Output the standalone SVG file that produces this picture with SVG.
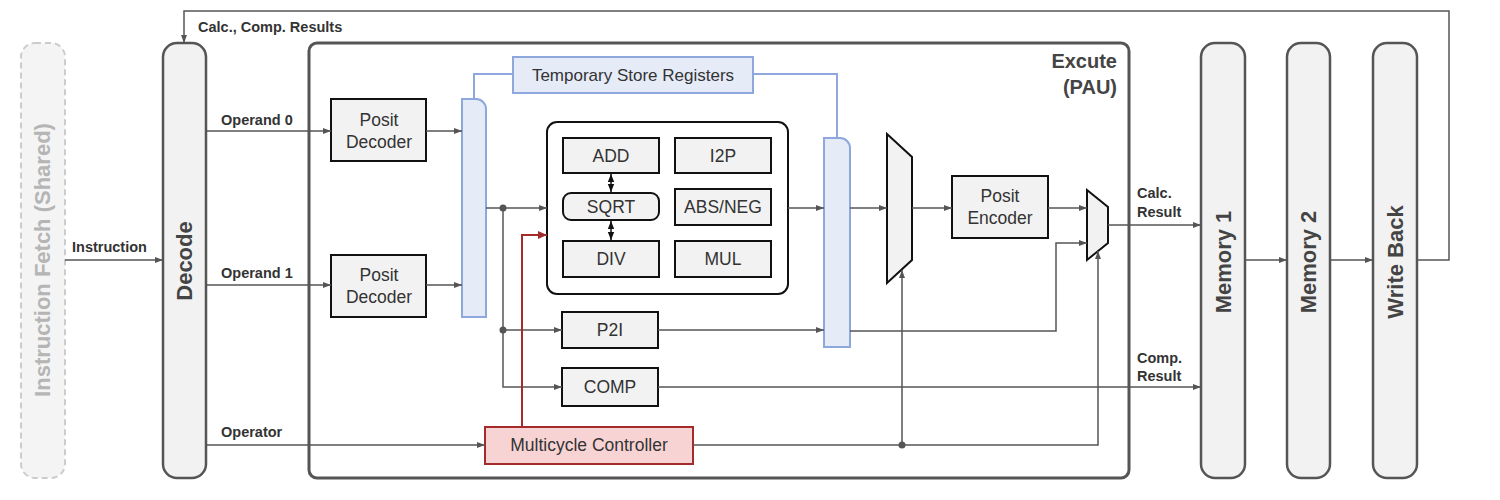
<svg xmlns="http://www.w3.org/2000/svg" width="1500" height="500" viewBox="0 0 1500 500">
<defs>
<marker id="ah" markerUnits="userSpaceOnUse" markerWidth="8" markerHeight="8" viewBox="0 0 8 8" refX="8" refY="4" orient="auto">
<path d="M0,1 L8,4 L0,7 Z" fill="#555"/>
</marker>
<marker id="ahk" markerUnits="userSpaceOnUse" markerWidth="8" markerHeight="8" viewBox="0 0 8 8" refX="8" refY="4" orient="auto-start-reverse">
<path d="M0,0.8 L8,4 L0,7.2 Z" fill="#111"/>
</marker>
<marker id="ahr" markerUnits="userSpaceOnUse" markerWidth="9" markerHeight="9" viewBox="0 0 8 8" refX="8" refY="4" orient="auto">
<path d="M0,0.5 L8,4 L0,7.5 Z" fill="#a32b2b"/>
</marker>
</defs>
<style>
.stage{fill:#f2f2f2;stroke:#555;stroke-width:2.5}
.stxt{font-family:"Liberation Sans",Arial,sans-serif;font-weight:bold;font-size:22px;fill:#444;text-anchor:middle}
.box{fill:#f2f2f2;stroke:#111;stroke-width:2}
.btxt{font-family:"Liberation Sans",Arial,sans-serif;font-size:17.5px;fill:#333;text-anchor:middle}
.lbl{font-family:"Liberation Sans",Arial,sans-serif;font-weight:bold;font-size:14.5px;fill:#333}
.ln{fill:none;stroke:#555;stroke-width:1.5}
.blue{fill:none;stroke:#8ea8dd;stroke-width:2}
.reg{fill:#e6ebf8;stroke:#8ea8dd;stroke-width:2}
.dot{fill:#555}
</style>

<g id="instruction-fetch">
<rect x="21" y="43" width="44" height="435" rx="14" fill="#f4f4f4" stroke="#cccccc" stroke-width="2" stroke-dasharray="6,4"/>
<text class="stxt" transform="translate(50,260) rotate(-90)" style="fill:#b5b5b5">Instruction Fetch (Shared)</text>
</g>

<g id="decode">
<rect class="stage" x="163" y="43" width="43" height="435" rx="14"/>
<text class="stxt" transform="translate(192,261) rotate(-90)">Decode</text>
</g>

<g id="execute">
<rect x="309" y="43" width="820" height="435" rx="8" fill="none" stroke="#555" stroke-width="3"/>
<text class="stxt" x="1117" y="68" style="text-anchor:end;font-size:20px">Excute</text>
<text class="stxt" x="1117" y="94" style="text-anchor:end;font-size:20px">(PAU)</text>
</g>

<g id="memory1">
<rect class="stage" x="1201" y="43" width="44" height="435" rx="14"/>
<text class="stxt" transform="translate(1231,262) rotate(-90)">Memory 1</text>
</g>
<g id="memory2">
<rect class="stage" x="1287" y="43" width="43" height="435" rx="14"/>
<text class="stxt" transform="translate(1316,262) rotate(-90)">Memory 2</text>
</g>
<g id="write-back">
<rect class="stage" x="1373" y="43" width="44" height="435" rx="14"/>
<text class="stxt" transform="translate(1403,262) rotate(-90)">Write Back</text>
</g>

<g id="posit-decoder-0">
<rect class="box" x="331" y="99" width="95" height="62"/>
<text class="btxt" x="379" y="126">Posit</text>
<text class="btxt" x="379" y="148">Decoder</text>
</g>
<g id="posit-decoder-1">
<rect class="box" x="331" y="255" width="95" height="62"/>
<text class="btxt" x="379" y="281">Posit</text>
<text class="btxt" x="379" y="303">Decoder</text>
</g>

<g id="temp-store">
<rect x="513" y="57" width="240" height="36" fill="#e6ebf8" stroke="#8ea8dd" stroke-width="2"/>
<text class="btxt" x="633" y="81" style="font-size:17px">Temporary Store Registers</text>
</g>
<g id="register-left">
<path class="reg" d="M462,317 V99 H476 A10,10 0 0 1 486,109 V317 Z"/>
</g>
<g id="register-right">
<path class="reg" d="M824,347 V138 H840 A10,10 0 0 1 850,148 V347 Z"/>
</g>

<g id="function-units">
<rect x="547" y="122" width="241" height="172" rx="10" fill="#fff" stroke="#111" stroke-width="2"/>
<g id="add"><rect class="box" x="563" y="138" width="96" height="35"/><text class="btxt" x="611" y="162">ADD</text></g>
<g id="i2p"><rect class="box" x="675" y="138" width="96" height="35"/><text class="btxt" x="723" y="162">I2P</text></g>
<g id="sqrt"><rect class="box" x="563" y="193" width="96" height="27" rx="8"/><text class="btxt" x="611" y="213">SQRT</text></g>
<g id="abs-neg"><rect class="box" x="675" y="189" width="96" height="36"/><text class="btxt" x="723" y="213">ABS/NEG</text></g>
<g id="div"><rect class="box" x="563" y="241" width="96" height="36"/><text class="btxt" x="611" y="265">DIV</text></g>
<g id="mul"><rect class="box" x="675" y="241" width="96" height="36"/><text class="btxt" x="723" y="265">MUL</text></g>
</g>

<g id="p2i"><rect class="box" x="562" y="312" width="96" height="36"/><text class="btxt" x="610" y="336">P2I</text></g>
<g id="comp"><rect class="box" x="562" y="368" width="96" height="38"/><text class="btxt" x="610" y="393">COMP</text></g>

<g id="multicycle-controller">
<rect x="485" y="427" width="208" height="37" fill="#f8d3d3" stroke="#a32b2b" stroke-width="2"/>
<text class="btxt" x="589" y="451">Multicycle Controller</text>
</g>

<g id="mux1">
<path d="M887,134 L912,157 L912,260 L887,283 Z" fill="#f2f2f2" stroke="#111" stroke-width="2"/>
</g>
<g id="posit-encoder">
<rect class="box" x="952" y="176" width="96" height="62"/>
<text class="btxt" x="1000" y="202">Posit</text>
<text class="btxt" x="1000" y="224">Encoder</text>
</g>
<g id="mux2">
<path d="M1087,190 L1108,207 L1108,243 L1087,260 Z" fill="#f2f2f2" stroke="#111" stroke-width="2"/>
</g>

<g id="connectors">
<path class="ln" d="M1417,260 H1449 V11 H184 V43" marker-end="url(#ah)"/>
<text class="lbl" x="198" y="32">Calc., Comp. Results</text>
<path class="ln" d="M65,260 H163" marker-end="url(#ah)"/>
<text class="lbl" x="72" y="252">Instruction</text>
<path class="ln" d="M206,131 H331" marker-end="url(#ah)"/>
<text class="lbl" x="221" y="125">Operand 0</text>
<path class="ln" d="M206,285 H331" marker-end="url(#ah)"/>
<text class="lbl" x="221" y="278">Operand 1</text>
<path class="ln" d="M206,445 H485" marker-end="url(#ah)"/>
<text class="lbl" x="221" y="437">Operator</text>
<path class="ln" d="M426,131 H462" marker-end="url(#ah)"/>
<path class="ln" d="M426,285 H462" marker-end="url(#ah)"/>
<path class="blue" d="M474,99 V74 H513"/>
<path class="blue" d="M753,74 H837 V138"/>
<path class="ln" d="M486,208 H547" marker-end="url(#ah)"/>
<path class="ln" d="M503,208 V387 H562" marker-end="url(#ah)"/>
<path class="ln" d="M503,330 H562" marker-end="url(#ah)"/>
<circle class="dot" cx="503" cy="208" r="3.5"/>
<circle class="dot" cx="503" cy="330" r="3.5"/>
<path d="M522,427 V235 H547" fill="none" stroke="#a32b2b" stroke-width="2" marker-end="url(#ahr)"/>
<path d="M611,174 V192" fill="none" stroke="#111" stroke-width="1.5" marker-start="url(#ahk)" marker-end="url(#ahk)"/>
<path d="M611,221 V240" fill="none" stroke="#111" stroke-width="1.5" marker-start="url(#ahk)" marker-end="url(#ahk)"/>
<path class="ln" d="M788,208 H824" marker-end="url(#ah)"/>
<path class="ln" d="M658,330 H824" marker-end="url(#ah)"/>
<path class="ln" d="M850,208 H887" marker-end="url(#ah)"/>
<path class="ln" d="M850,331 H1056 V243 H1087" marker-end="url(#ah)"/>
<path class="ln" d="M912,208 H952" marker-end="url(#ah)"/>
<path class="ln" d="M1048,208 H1087" marker-end="url(#ah)"/>
<path class="ln" d="M1108,225 H1201" marker-end="url(#ah)"/>
<text class="lbl" x="1137" y="198">Calc.</text>
<text class="lbl" x="1137" y="217">Result</text>
<path class="ln" d="M658,387 H1201" marker-end="url(#ah)"/>
<text class="lbl" x="1137" y="363">Comp.</text>
<text class="lbl" x="1137" y="381">Result</text>
<path class="ln" d="M693,445 H1098 V251" marker-end="url(#ah)"/>
<path class="ln" d="M902,445 V270" marker-end="url(#ah)"/>
<circle class="dot" cx="902" cy="445" r="3.5"/>
<path class="ln" d="M1245,260 H1287" marker-end="url(#ah)"/>
<path class="ln" d="M1330,260 H1373" marker-end="url(#ah)"/>
</g>
</svg>
